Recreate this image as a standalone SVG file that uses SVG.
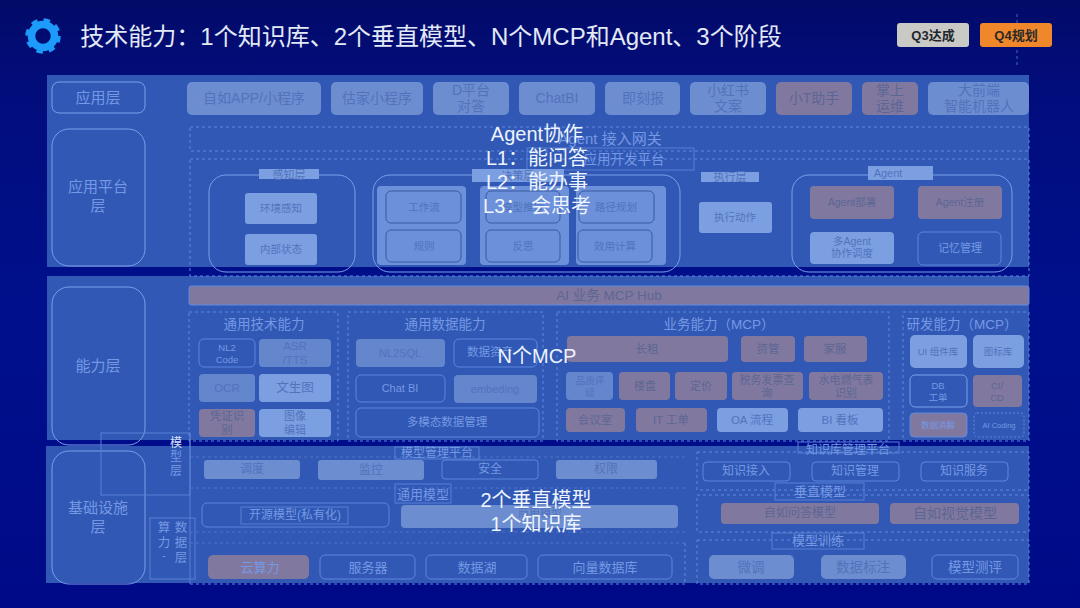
<svg xmlns="http://www.w3.org/2000/svg" width="1080" height="608" viewBox="0 0 1080 608">
<style>
text{font-family:"Liberation Sans","Noto Sans CJK SC",sans-serif;text-anchor:middle;dominant-baseline:central}
.panel{fill:#3058b4}
.l{fill:#7c9fe2}
.m{fill:#6c8dd0}
.s{fill:#6486cc}
.b{fill:#81789f}
.o{fill:none;stroke:#5c86de;stroke-width:1}
.ow{fill:none;stroke:#7ba0ea;stroke-width:1}
.d{fill:none;stroke:#5f88e0;stroke-width:1;stroke-dasharray:3 3}
.r{fill:none;stroke:#5880d4;stroke-width:1}
.tl{fill:#7698e4}
.td{fill:#5273bc}
.tb{fill:#5c6694}
.w{fill:#eef4ff;font-size:20px}
.k{fill:none;stroke:#3b5aa4;stroke-width:1}
</style>
<defs>
<linearGradient id="bg" x1="0" y1="0" x2="0" y2="1"><stop offset="0" stop-color="#020b68"/><stop offset="0.14" stop-color="#020d7c"/><stop offset="0.5" stop-color="#00108c"/><stop offset="1" stop-color="#000a88"/></linearGradient>
</defs>
<rect width="1080" height="608" fill="url(#bg)"/>
<path d="M1017 14V66" stroke="#7f9fe0" stroke-width="1" stroke-dasharray="3 3" opacity="0.6"/>

<g id="header">
<g id="gear">
<circle cx="43" cy="36" r="11.5" fill="none" stroke="#1c9bfb" stroke-width="7.5"/>
<circle cx="43" cy="36" r="15.5" fill="none" stroke="#1c9bfb" stroke-width="4.5" stroke-dasharray="6.2 6"/>
</g>
<text x="431" y="36" font-size="24" fill="#e2e9f6">技术能力：1个知识库、2个垂直模型、N个MCP和Agent、3个阶段</text>
</g>
<g id="q3"><rect x="897" y="23" width="72" height="24" rx="3" fill="#c9c9c6"/><text x="933" y="35" font-size="13" font-weight="bold" fill="#22272e">Q3达成</text></g>
<g id="q4"><rect x="980" y="23" width="72" height="24" rx="3" fill="#f0872a"/><text x="1016" y="35" font-size="13" font-weight="bold" fill="#2a2a2a">Q4规划</text></g>

<rect class="panel" x="47" y="75" width="982" height="192"/>
<rect class="panel" x="47" y="276" width="982" height="164"/>
<rect class="panel" x="46" y="446" width="983" height="137"/>

<g id="connectors">
<rect class="d" x="190" y="127" width="839" height="24"/>
<rect class="d" x="190" y="159" width="839" height="117"/>
<rect class="d" x="189" y="312" width="149" height="129"/>
<rect class="d" x="348" y="312" width="195" height="129"/>
<rect class="d" x="557" y="312" width="332" height="129"/>
<rect class="d" x="903" y="312" width="126" height="129"/>
<path class="r" d="M190 433V584"/>
<path class="r" d="M190 457H685M190 488H685M190 532H685M190 543H685" stroke-dasharray="3 3" opacity="0.7"/>
<path class="d" d="M190 584H685M685 543V584"/>
<rect class="d" x="697" y="452" width="332" height="38"/>
<rect class="d" x="697" y="495" width="332" height="37"/>
<rect class="d" x="697" y="540" width="332" height="44"/>
</g>

<g id="n-app"><rect class="ow" x="52" y="82" width="93" height="31" rx="7"/><text class="tl" x="98" y="97" font-size="15">应用层</text></g>
<g id="n-a1"><rect class="m" x="187" y="82" width="134" height="33" rx="5"/><text class="td" x="254" y="98" font-size="14">自如APP/小程序</text></g>
<g id="n-a2"><rect class="m" x="331" y="82" width="92" height="33" rx="5"/><text class="td" x="377" y="98" font-size="14">估家小程序</text></g>
<g id="n-a3"><rect class="m" x="433" y="82" width="76" height="33" rx="5"/><text class="td" x="471" y="90" font-size="14">D平台</text><text class="td" x="471" y="106" font-size="14">对答</text></g>
<g id="n-a4"><rect class="m" x="519" y="82" width="76" height="33" rx="5"/><text class="td" x="557" y="98" font-size="14">ChatBI</text></g>
<g id="n-a5"><rect class="m" x="605" y="82" width="75" height="33" rx="5"/><text class="td" x="643" y="98" font-size="14">即刻报</text></g>
<g id="n-a6"><rect class="m" x="690" y="82" width="76" height="33" rx="5"/><text class="td" x="728" y="90" font-size="14">小红书</text><text class="td" x="728" y="106" font-size="14">文案</text></g>
<g id="n-a7"><rect class="b" x="776" y="82" width="76" height="33" rx="5"/><text class="tb" x="814" y="98" font-size="14">小T助手</text></g>
<g id="n-a8"><rect class="b" x="862" y="82" width="56" height="33" rx="5"/><text class="tb" x="890" y="90" font-size="14">掌上</text><text class="tb" x="890" y="106" font-size="14">运维</text></g>
<g id="n-a9"><rect class="m" x="928" y="82" width="101" height="33" rx="5"/><text class="td" x="979" y="90" font-size="14">大前端</text><text class="td" x="979" y="106" font-size="14">智能机器人</text></g>

<g id="n-platform"><rect class="ow" x="52" y="129" width="93" height="137" rx="17"/><text class="tl" x="98" y="186" font-size="15">应用平台</text><text class="tl" x="98" y="205" font-size="15">层</text></g>
<g id="n-gateway"><text class="tl" x="610" y="138" font-size="15">Agent 接入网关</text></g>
<g id="n-dev"><rect class="r" x="527" y="148" width="167" height="22"/><text class="tl" x="624" y="159" font-size="13.5">应用开发平台</text></g>

<g id="n-perceive">
<rect class="ow" x="209" y="175" width="146" height="97" rx="17"/>
<rect class="l" x="259" y="169" width="60" height="10"/><text class="td" x="289" y="175" font-size="11">感知层</text>
<rect class="l" x="245" y="193" width="72" height="31" rx="3"/><text class="td" x="281" y="208" font-size="10.5">环境感知</text>
<rect class="l" x="245" y="234" width="72" height="31" rx="3"/><text class="td" x="281" y="249" font-size="10.5">内部状态</text>
</g>
<g id="n-decide">
<rect class="ow" x="373" y="175" width="307" height="97" rx="17"/>
<rect class="l" x="377" y="186" width="89" height="79" rx="4" opacity="0.8"/>
<rect class="l" x="480" y="186" width="89" height="79" rx="4" opacity="0.8"/>
<rect class="l" x="576" y="186" width="90" height="79" rx="4" opacity="0.8"/>
<rect class="l" x="472" y="169" width="92" height="13"/><text class="td" x="518" y="176" font-size="11">决策层</text>
<rect class="k" x="386" y="191" width="75" height="32" rx="5"/><text class="td" x="424" y="207" font-size="10.5">工作流</text>
<rect class="k" x="386" y="230" width="75" height="32" rx="5"/><text class="td" x="424" y="246" font-size="10.5">规则</text>
<rect class="k" x="486" y="191" width="74" height="32" rx="5"/><text class="td" x="523" y="207" font-size="10.5">模型推理</text>
<rect class="k" x="486" y="230" width="74" height="32" rx="5"/><text class="td" x="523" y="246" font-size="10.5">反思</text>
<rect class="k" x="579" y="191" width="75" height="32" rx="5"/><text class="td" x="616" y="207" font-size="10.5">路径规划</text>
<rect class="k" x="578" y="230" width="74" height="32" rx="5"/><text class="td" x="615" y="246" font-size="10.5">效用计算</text>
</g>
<g id="n-exec">
<rect class="l" x="701" y="172" width="58" height="10"/><text class="td" x="730" y="177" font-size="11">执行层</text>
<rect class="l" x="699" y="202" width="73" height="31" rx="3"/><text class="td" x="735" y="217" font-size="10.5">执行动作</text>
</g>
<g id="n-agent">
<rect class="ow" x="792" y="175" width="220" height="97" rx="17"/>
<rect class="l" x="868" y="166" width="65" height="14"/><text class="td" x="888" y="173" font-size="11">Agent</text>
<rect class="b" x="810" y="186" width="84" height="33" rx="4"/><text class="tb" x="852" y="202" font-size="10.5">Agent部署</text>
<rect class="b" x="918" y="186" width="84" height="33" rx="4"/><text class="tb" x="960" y="202" font-size="10.5">Agent注册</text>
<rect class="l" x="810" y="232" width="84" height="32" rx="4"/><text class="td" x="852" y="241" font-size="10.5">多Agent</text><text class="td" x="852" y="253" font-size="10.5">协作调度</text>
<rect class="o" x="918" y="232" width="83" height="33" rx="5"/><text class="tl" x="960" y="248" font-size="11">记忆管理</text>
</g>

<g id="n-cap"><rect class="ow" x="52" y="287" width="93" height="158" rx="17"/><text class="tl" x="98" y="365" font-size="15">能力层</text></g>
<g id="n-hub"><rect class="b" x="189" y="286" width="840" height="19" rx="2" stroke="#5f88e0" stroke-width="1"/><text class="tb" x="609" y="295" font-size="13.5">AI 业务 MCP Hub</text></g>

<g id="n-tech">
<text class="tl" x="264" y="324" font-size="13.5">通用技术能力</text>
<rect class="o" x="199" y="339" width="56" height="28" rx="5"/><text class="tl" x="227" y="347" font-size="9.5">NL2</text><text class="tl" x="227" y="359" font-size="9.5">Code</text>
<rect class="s" x="259" y="339" width="72" height="28" rx="4"/><text class="td" x="295" y="346" font-size="11.5">ASR</text><text class="td" x="295" y="360" font-size="11.5">/TTS</text>
<rect class="s" x="199" y="374" width="56" height="28" rx="4"/><text class="td" x="227" y="388" font-size="11.5">OCR</text>
<rect class="l" x="259" y="374" width="72" height="28" rx="4"/><text class="td" x="295" y="388" font-size="12.5">文生图</text>
<rect class="b" x="199" y="409" width="56" height="28" rx="4"/><text class="tb" x="227" y="416" font-size="11.5">凭证识</text><text class="tb" x="227" y="430" font-size="11.5">别</text>
<rect class="l" x="259" y="409" width="72" height="28" rx="4"/><text class="td" x="295" y="416" font-size="11">图像</text><text class="td" x="295" y="430" font-size="11">编辑</text>
</g>
<g id="n-data">
<text class="tl" x="445" y="324" font-size="13.5">通用数据能力</text>
<rect class="s" x="356" y="339" width="89" height="28" rx="4"/><text class="td" x="400" y="353" font-size="11">NL2SQL</text>
<rect class="o" x="454" y="339" width="83" height="28" rx="5"/><text class="tl" x="490" y="352" font-size="11.5">数据资产</text>
<rect class="o" x="356" y="375" width="89" height="27" rx="5"/><text class="tl" x="400" y="388" font-size="11">Chat BI</text>
<rect class="s" x="454" y="375" width="83" height="28" rx="4"/><text class="td" x="495" y="389" font-size="11">embeding</text>
<rect class="o" x="356" y="408" width="183" height="29" rx="5"/><text class="tl" x="447" y="422" font-size="11.5">多模态数据管理</text>
</g>
<g id="n-biz">
<text class="tl" x="719" y="324" font-size="13.5">业务能力（MCP）</text>
<rect class="b" x="567" y="336" width="161" height="26" rx="4"/><text class="tb" x="647" y="349" font-size="11.5">长租</text>
<rect class="b" x="741" y="336" width="54" height="26" rx="4"/><text class="tb" x="768" y="349" font-size="11.5">资管</text>
<rect class="b" x="804" y="336" width="63" height="26" rx="4"/><text class="tb" x="835" y="349" font-size="11.5">家服</text>
<rect class="s" x="566" y="372" width="47" height="28" rx="4"/><text class="td" x="590" y="380" font-size="9.5">品质评</text><text class="td" x="590" y="392" font-size="9.5">级</text>
<rect class="b" x="619" y="372" width="51" height="28" rx="4"/><text class="tb" x="645" y="386" font-size="11">楼盘</text>
<rect class="b" x="675" y="372" width="52" height="28" rx="4"/><text class="tb" x="701" y="386" font-size="11">定价</text>
<rect class="b" x="732" y="372" width="71" height="28" rx="4"/><text class="tb" x="767" y="380" font-size="11">税务发票查</text><text class="tb" x="767" y="393" font-size="11">询</text>
<rect class="b" x="809" y="372" width="74" height="28" rx="4"/><text class="tb" x="846" y="380" font-size="11">水电燃气表</text><text class="tb" x="846" y="393" font-size="11">识别</text>
<rect class="b" x="566" y="408" width="59" height="24" rx="4"/><text class="tb" x="595" y="420" font-size="11.5">会议室</text>
<rect class="b" x="636" y="408" width="71" height="24" rx="4"/><text class="tb" x="671" y="420" font-size="11.5">IT 工单</text>
<rect class="l" x="717" y="408" width="71" height="24" rx="4"/><text class="td" x="752" y="420" font-size="11.5">OA 流程</text>
<rect class="l" x="798" y="408" width="85" height="24" rx="4"/><text class="td" x="840" y="420" font-size="11.5">BI 看板</text>
</g>
<g id="n-rd">
<text class="tl" x="962" y="324" font-size="13.5">研发能力（MCP）</text>
<rect class="l" x="910" y="335" width="57" height="33" rx="5"/><text class="td" x="938" y="351" font-size="9.5">UI 组件库</text>
<rect class="l" x="973" y="335" width="51" height="33" rx="5"/><text class="td" x="998" y="351" font-size="9.5">图标库</text>
<rect class="ow" x="910" y="375" width="57" height="32" rx="5"/><text class="tl" x="938" y="385" font-size="9.5">DB</text><text class="tl" x="938" y="397" font-size="9.5">工单</text>
<rect class="b" x="973" y="375" width="49" height="32" rx="4"/><text class="tb" x="997" y="385" font-size="9.5">CI/</text><text class="tb" x="997" y="397" font-size="9.5">CD</text>
<rect class="b" x="910" y="413" width="57" height="24" rx="4" stroke="#5f88e0"/><text class="tl" x="938" y="425" font-size="8.5">数据消解</text>
<rect class="d" style="stroke-dasharray:2 2" x="974" y="413" width="50" height="24" rx="3"/><text class="tl" x="999" y="425" font-size="7.5">AI Coding</text>
</g>

<g id="n-infra"><rect class="ow" x="52" y="451" width="93" height="133" rx="17"/><text class="tl" x="98" y="507" font-size="15">基础设施</text><text class="tl" x="98" y="526" font-size="15">层</text></g>
<g id="n-modellayer"><rect class="r" x="101" y="433" width="89" height="62"/><text x="176" y="443" font-size="12" fill="#d8e4fb">模</text><text class="tl" x="176" y="457" font-size="12">型</text><text class="tl" x="176" y="471" font-size="12">层</text></g>
<g id="n-computelayer"><rect class="r" x="150" y="518" width="45" height="61"/>
<text class="tl" x="164" y="528" font-size="12.5">算</text><text class="tl" x="164" y="543" font-size="12.5">力</text><text class="tl" x="164" y="555" font-size="11">-</text>
<text class="tl" x="181" y="528" font-size="12.5">数</text><text class="tl" x="181" y="543" font-size="12.5">据</text><text class="tl" x="181" y="558" font-size="12.5">层</text></g>

<g id="n-modelmgmt">
<rect class="r" x="395" y="447" width="84" height="12"/><text class="tl" x="437" y="453" font-size="12">模型管理平台</text>
<rect class="m" x="204" y="460" width="96" height="19" rx="3"/><text class="td" x="252" y="469" font-size="12">调度</text>
<rect class="m" x="318" y="460" width="106" height="20" rx="3"/><text class="td" x="371" y="470" font-size="12">监控</text>
<rect class="o" x="442" y="460" width="96" height="19" rx="3"/><text class="tl" x="490" y="469" font-size="12">安全</text>
<rect class="m" x="556" y="460" width="101" height="19" rx="3"/><text class="td" x="606" y="469" font-size="12">权限</text>
</g>
<g id="n-general">
<rect class="r" x="395" y="484" width="56" height="19"/><text class="tl" x="423" y="494" font-size="13">通用模型</text>
<rect class="o" x="202" y="503" width="187" height="24" rx="5"/>
<rect class="r" x="241" y="507" width="107" height="17"/><text class="tl" x="295" y="515" font-size="12">开源模型(私有化)</text>
<rect class="m" x="401" y="505" width="277" height="23" rx="4"/><text class="td" x="540" y="513" font-size="11">商用模型</text>
</g>
<g id="n-bottom">
<rect class="b" x="208" y="555" width="101" height="24" rx="5"/><text class="tl" x="260" y="567" font-size="13">云算力</text>
<rect class="o" x="320" y="555" width="95" height="24" rx="5"/><text class="tl" x="368" y="567" font-size="13">服务器</text>
<rect class="o" x="426" y="555" width="101" height="24" rx="5"/><text class="tl" x="477" y="567" font-size="13">数据湖</text>
<rect class="o" x="538" y="555" width="134" height="24" rx="5"/><text class="tl" x="605" y="567" font-size="13">向量数据库</text>
</g>
<g id="n-kb">
<rect class="r" x="798" y="442" width="101" height="11"/><text class="tl" x="848" y="450" font-size="12">知识库管理平台</text>
<rect class="o" x="703" y="462" width="87" height="19" rx="4"/><text class="tl" x="746" y="471" font-size="12">知识接入</text>
<rect class="o" x="812" y="462" width="87" height="19" rx="4"/><text class="tl" x="855" y="471" font-size="12">知识管理</text>
<rect class="o" x="921" y="462" width="87" height="19" rx="4"/><text class="tl" x="964" y="471" font-size="12">知识服务</text>
</g>
<g id="n-vertical">
<rect class="r" x="775" y="483" width="89" height="17"/><text class="tl" x="820" y="491" font-size="13">垂直模型</text>
<rect class="b" x="721" y="503" width="158" height="21" rx="4"/><text class="tb" x="800" y="513" font-size="12">自如问答模型</text>
<rect class="b" x="890" y="503" width="129" height="21" rx="4"/><text class="tb" x="955" y="513" font-size="14">自如视觉模型</text>
</g>
<g id="n-train">
<rect class="r" x="772" y="533" width="92" height="16"/><text class="tl" x="818" y="540" font-size="13">模型训练</text>
<rect class="m" x="709" y="555" width="85" height="24" rx="5"/><text class="td" x="751" y="567" font-size="13.5">微调</text>
<rect class="m" x="821" y="555" width="85" height="24" rx="5"/><text class="td" x="863" y="567" font-size="13.5">数据标注</text>
<rect class="o" x="932" y="555" width="86" height="24" rx="5"/><text class="tl" x="975" y="567" font-size="13.5">模型测评</text>
</g>

<g id="overlay">
<text class="w" x="537" y="134">Agent协作</text>
<text class="w" x="537" y="158">L1：能问答</text>
<text class="w" x="537" y="182">L2：能办事</text>
<text class="w" x="537" y="206">L3： 会思考</text>
<text class="w" x="537" y="356">N个MCP</text>
<text class="w" x="536" y="500">2个垂直模型</text>
<text class="w" x="536" y="524">1个知识库</text>
</g>
</svg>
